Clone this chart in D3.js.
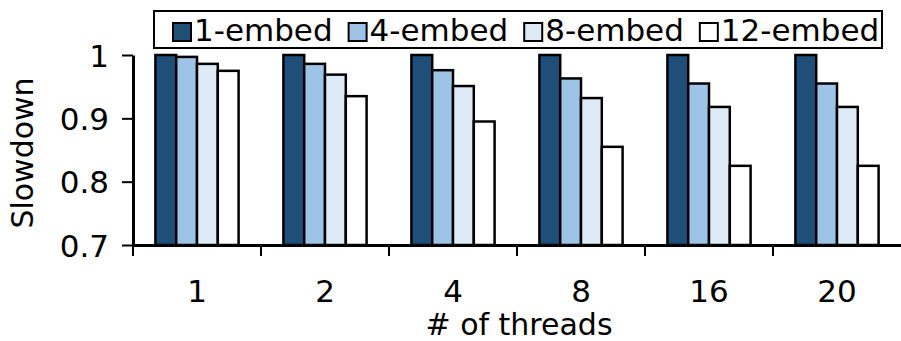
<!DOCTYPE html>
<html>
<head>
<meta charset="utf-8">
<script src="https://cdn.jsdelivr.net/npm/d3@7"></script>
<style>
  html, body { margin: 0; padding: 0; background: #fff; }
  svg { display: block; font-family: "DejaVu Sans", sans-serif; }
</style>
</head>
<body>
<svg id="chart" width="901" height="341"></svg>
<script>
// Thread counts on the x axis
const threads = ["1", "2", "4", "8", "16", "20"];
// Embedding configurations (one bar each per group)
const series = ["1-embed", "4-embed", "8-embed", "12-embed"];
// Slowdown per configuration, one value per thread count
const embed1  = [1.000, 1.000, 1.000, 1.000, 1.000, 1.000];
const embed4  = [0.997, 0.986, 0.976, 0.963, 0.955, 0.955];
const embed8  = [0.986, 0.969, 0.951, 0.932, 0.918, 0.918];
const embed12 = [0.975, 0.935, 0.895, 0.855, 0.825, 0.825];
const yTicks = [0.7, 0.8, 0.9, 1.0];
const colors = ["#1f4e79", "#9dc3e6", "#deebf7", "#ffffff"];

const values = [embed1, embed4, embed8, embed12];
const rows = threads.map((t, i) => ({ t, vals: series.map((s, j) => ({ s, v: values[j][i], c: colors[j] })) }));

const svg = d3.select("#chart");
const plotLeft = 133, plotRight = 901, plotTop = 55, plotBottom = 245;
const fontSize = 31;

const x0 = d3.scaleBand().domain(threads).range([plotLeft, plotRight]).padding(0);
const cluster = x0.bandwidth() * 0.65;
const x1 = d3.scaleBand().domain(series).range([0, cluster]).padding(0);
const y = d3.scaleLinear().domain([0.7, 1.0]).range([plotBottom, plotTop]);

// Bars
const groups = svg.append("g").selectAll("g").data(rows).join("g")
  .attr("transform", d => `translate(${x0(d.t) + (x0.bandwidth() - cluster) / 2},0)`);
groups.selectAll("rect").data(d => d.vals).join("rect")
  .attr("x", d => x1(d.s))
  .attr("y", d => y(d.v))
  .attr("width", x1.bandwidth())
  .attr("height", d => y(0.7) - y(d.v))
  .attr("fill", d => d.c)
  .attr("stroke", "#000")
  .attr("stroke-width", 2.5);

// Y axis
const yAxis = svg.append("g").attr("transform", `translate(${plotLeft},0)`)
  .call(d3.axisLeft(y).tickValues(yTicks).tickSize(11).tickSizeOuter(0).tickPadding(13)
    .tickFormat(d => d === 1 ? "1" : d.toFixed(1)));
yAxis.select(".domain").attr("stroke", "#000").attr("stroke-width", 3);
yAxis.selectAll(".tick line").attr("stroke", "#000").attr("stroke-width", 2);
yAxis.selectAll("text").attr("font-size", fontSize).attr("fill", "#000")
  .attr("font-family", "DejaVu Sans, sans-serif").attr("dy", "0.36em");

// X axis: baseline, group separator ticks and group labels
const xAxis = svg.append("g").attr("transform", `translate(0,${plotBottom})`)
  .call(d3.axisBottom(x0).tickSize(0).tickSizeOuter(0).tickPadding(57));
xAxis.select(".domain").attr("stroke", "#000").attr("stroke-width", 3);
xAxis.selectAll("text").attr("font-size", fontSize).attr("fill", "#000")
  .attr("font-family", "DejaVu Sans, sans-serif").attr("dy", "0");
svg.append("g").selectAll("line").data(threads).join("line")
  .attr("x1", d => x0(d)).attr("x2", d => x0(d))
  .attr("y1", plotBottom).attr("y2", plotBottom + 11)
  .attr("stroke", "#000").attr("stroke-width", 2);

// Axis titles
svg.append("text")
  .attr("x", (plotLeft + plotRight) / 2 + 2).attr("y", 335)
  .attr("text-anchor", "middle").attr("font-size", 30)
  .text("# of threads");
svg.append("text")
  .attr("transform", `translate(33,${(plotTop + plotBottom) / 2 + 3}) rotate(-90)`)
  .attr("text-anchor", "middle").attr("font-size", 30)
  .text("Slowdown");

// Legend
const legend = svg.append("g");
legend.append("rect")
  .attr("x", 154).attr("y", 11).attr("width", 728).attr("height", 37)
  .attr("fill", "#fff").attr("stroke", "#000").attr("stroke-width", 2);
let lx = 173;
series.forEach((s, i) => {
  legend.append("rect")
    .attr("x", lx).attr("y", 23).attr("width", 18).attr("height", 18)
    .attr("fill", colors[i]).attr("stroke", "#000").attr("stroke-width", 2);
  const t = legend.append("text")
    .attr("x", lx + 21).attr("y", 41).attr("font-size", fontSize).text(s);
  lx += 21 + t.node().getComputedTextLength() + 16;
});
</script>
</body>
</html>
